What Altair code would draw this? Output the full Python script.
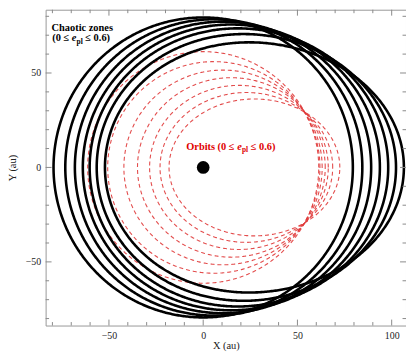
import numpy as np
import pandas as pd
import altair as alt

# Planet eccentricities, semi-major axes (au) of the orbits, and radial width (au) of chaotic zone
ecc = [0.0, 0.1, 0.2, 0.3, 0.4, 0.5, 0.6]
semi_major = [61.3, 56.3, 52.6, 49.8, 47.4, 45.8, 45.3]
chaos_width = [18.1, 22.5, 26.0, 29.0, 31.8, 33.6, 34.0]

star_x = [0.0]
star_y = [0.0]

x_major = [-50, 0, 50, 100]
x_minor = [-80, -70, -60, -40, -30, -20, -10, 10, 20, 30, 40, 60, 70, 80, 90]
y_major = [-50, 0, 50]
y_minor = [-80, -70, -60, -40, -30, -20, -10, 10, 20, 30, 40, 60, 70, 80]

X_DOMAIN = [-83.6, 107.6]
Y_DOMAIN = [-83.7, 83.5]
W, H = 364, 319

theta = np.linspace(0, 2 * np.pi, 721)
orb_rows, chaos_rows = [], []
for k, (e, a, d) in enumerate(zip(ecc, semi_major, chaos_width)):
    p = a * (1 - e ** 2)
    r = p / (1 - e * np.cos(theta))
    rc = r + d
    for i, t in enumerate(theta):
        orb_rows.append({"id": k, "i": i, "x": r[i] * np.cos(t), "y": r[i] * np.sin(t)})
        chaos_rows.append({"id": k, "i": i, "x": rc[i] * np.cos(t), "y": rc[i] * np.sin(t)})
orb_df = pd.DataFrame(orb_rows)
chaos_df = pd.DataFrame(chaos_rows)

xs = alt.Scale(domain=X_DOMAIN, nice=False, zero=False)
ys = alt.Scale(domain=Y_DOMAIN, nice=False, zero=False)

SERIF = "Liberation Serif"

base_x = alt.X("x:Q", scale=xs,
               axis=alt.Axis(values=x_major, title="X (au)", labelPadding=5,
                             titleY=23, titleBaseline="alphabetic"))
base_y = alt.Y("y:Q", scale=ys,
               axis=alt.Axis(values=y_major, title="Y (au)", labelPadding=5,
                             titleX=-28, titleY=H / 2))

orbits = alt.Chart(orb_df).mark_line(
    color="#e03a3a", strokeWidth=1.1, strokeDash=[4, 3], opacity=0.9, clip=True
).encode(x=base_x, y=base_y, detail="id:N", order="i:Q")

chaos = alt.Chart(chaos_df).mark_line(
    color="black", strokeWidth=2.6, clip=True
).encode(x="x:Q", y="y:Q", detail="id:N", order="i:Q")

star = alt.Chart(pd.DataFrame({"x": star_x, "y": star_y})).mark_point(
    filled=True, color="black", size=165, opacity=1
).encode(x="x:Q", y="y:Q")

TICK_C = "#8a8a8a"
def xticks(vals, length):
    df = pd.DataFrame({"x": vals})
    bot = alt.Chart(df).mark_rule(color=TICK_C, strokeWidth=1).encode(
        x="x:Q", y=alt.value(H), y2=alt.value(H - length))
    top = alt.Chart(df).mark_rule(color=TICK_C, strokeWidth=1).encode(
        x="x:Q", y=alt.value(0), y2=alt.value(length))
    return [bot, top]

def yticks(vals, length):
    df = pd.DataFrame({"y": vals})
    left = alt.Chart(df).mark_rule(color=TICK_C, strokeWidth=1).encode(
        y="y:Q", x=alt.value(0), x2=alt.value(length))
    right = alt.Chart(df).mark_rule(color=TICK_C, strokeWidth=1).encode(
        y="y:Q", x=alt.value(W), x2=alt.value(W - length))
    return [left, right]

ticks = xticks(x_major, 6) + xticks(x_minor, 3.5) + yticks(y_major, 6) + yticks(y_minor, 3.5)

def txt(s, px, py, size=10.5, color="black", italic=False):
    return alt.Chart(pd.DataFrame({"t": [s]})).mark_text(
        align="left", baseline="alphabetic", font=SERIF, fontSize=size,
        fontWeight="bold", fontStyle="italic" if italic else "normal", color=color
    ).encode(x=alt.value(px), y=alt.value(py), text="t:N")

RED = "#e00000"
cx, cy = 6.7, 32
ox, oy = 142, 141.5
labels = [
    txt("Chaotic zones", 6, 21),
    txt("(0 ≤", cx, cy),
    txt("e", cx + 19.8, cy, italic=True),
    txt("pl", cx + 24.5, cy + 2.5, size=7.5),
    txt("≤ 0.6)", cx + 33.4, cy),
    txt("Orbits (0 ≤", ox, oy, color=RED),
    txt("e", ox + 51.6, oy, color=RED, italic=True),
    txt("pl", ox + 56.3, oy + 2.5, size=7.5, color=RED),
    txt("≤ 0.6)", ox + 65.2, oy, color=RED),
]

chart = alt.layer(orbits, chaos, star, *ticks, *labels).properties(
    width=W, height=H,
    autosize=alt.AutoSizeParams(type="none"),
    padding={"left": 38, "top": 0, "right": 0, "bottom": 25},
).configure_view(
    stroke="#999999", strokeWidth=1
).configure_axis(
    grid=False, ticks=False, domain=False,
    labelFont=SERIF, labelFontSize=10, labelColor="#222222",
    titleFont=SERIF, titleFontSize=10.5, titleFontWeight="normal", titleColor="#222222",
)

chart.save("out.html", embed_options={"renderer": "svg", "actions": False})
